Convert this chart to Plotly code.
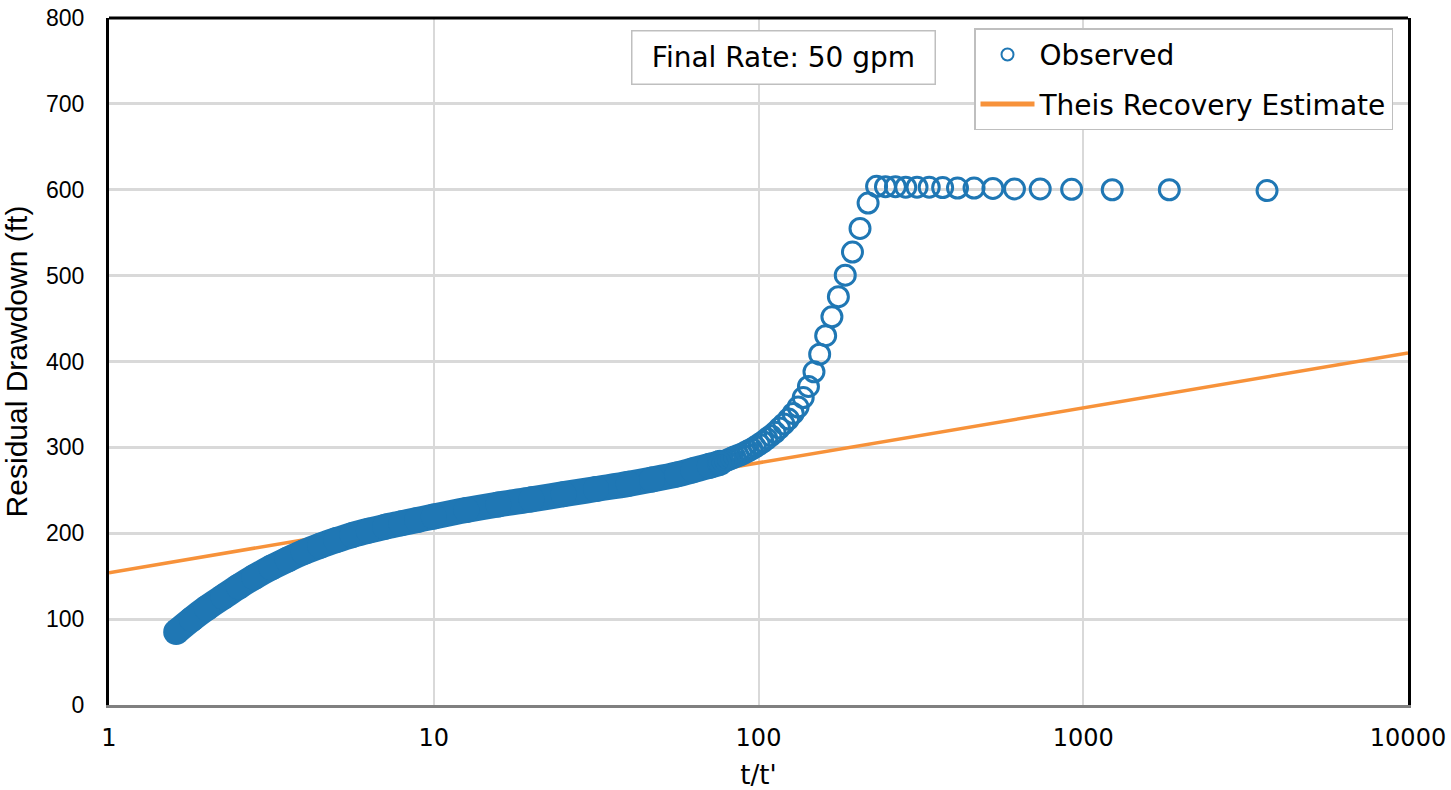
import plotly.graph_objects as go

# ---------------- data ----------------
# individually visible observed points (early recovery, large t/t')
obs_x = [3681, 1841, 1228, 921, 737, 614, 527, 461, 410, 369, 335.5, 307.7,
         284, 264, 246, 231, 217.5, 205.4, 194.7, 185, 176.2, 168.3, 161,
         154.3, 148.2, 142.5, 137.3, 132.4, 127.9, 123.7, 119.7, 116, 112.5,
         109.2, 106.1, 103.2, 100.5, 97.8, 95.4, 93, 90.8, 88.6, 86.6, 84.6,
         82.8, 81, 79.3, 77.7, 76.1]
obs_y = [599, 600, 600, 600.5, 601, 601, 601.5, 602, 602, 602.5, 603, 603,
         603, 603.5, 603.5, 604, 584.5, 555, 527.5, 500.5, 475.5, 452, 430,
         408.5, 388, 371, 358, 347, 339.5, 333, 327.3, 322.5, 317.5,
         313.6, 310, 306.5, 303.6, 300.6, 298.2, 296, 294, 292, 290.5, 289,
         287.5, 286, 284.5, 283, 282]

# densely packed observed points (late recovery) - band centre readings
dense_x = [1.61, 1.8, 2.0, 2.25, 2.51, 2.8, 3.16, 3.55, 3.98, 4.47, 5.01,
           5.62, 6.31, 7.08, 7.94, 8.9, 10, 12.6, 15.8, 20, 25.1, 31.6, 39.8,
           47, 56.2, 63, 70.8, 76.1]
dense_y = [85, 100, 113, 126, 138, 149, 160, 169.5, 178, 185.5, 192,
           198, 203, 207.5, 211.5, 215.5, 219.5, 227, 233.5, 239.5, 245.5,
           251.5, 257.5, 262.5, 268.5, 273.5, 278.5, 282]

theis_x = [1, 10, 100, 1000, 10000]
theis_y = [154, 218, 282, 346, 410]

x_ticks = [1, 10, 100, 1000, 10000]
x_tick_labels = ["1", "10", "100", "1000", "10000"]
y_ticks = [0, 100, 200, 300, 400, 500, 600, 700, 800]

BLUE = "#1f77b4"
ORANGE = "#f7923a"

fig = go.Figure()

fig.add_trace(go.Scatter(
    x=theis_x, y=theis_y, mode="lines", name="Theis Recovery Estimate",
    line=dict(color=ORANGE, width=3.5), legendgroup="b", legendrank=2))

fig.add_trace(go.Scatter(
    x=dense_x, y=dense_y, mode="lines+markers", showlegend=False,
    line=dict(color=BLUE, width=26, shape="spline", smoothing=1),
    marker=dict(symbol="circle", size=26, color=BLUE, line=dict(width=0)),
    hoverinfo="skip"))

fig.add_trace(go.Scatter(
    x=obs_x, y=obs_y, mode="markers", name="Observed",
    marker=dict(symbol="circle-open", size=20, color=BLUE,
                line=dict(width=3, color=BLUE)),
    legendgroup="a", legendrank=1))

fig.update_layout(
    width=1451, height=790,
    margin=dict(l=109, r=43, t=18, b=85, autoexpand=False),
    paper_bgcolor="white", plot_bgcolor="white",
    font=dict(family="DejaVu Sans", color="black"),
    legend=dict(
        x=0.6659, y=0.985, xanchor="left", yanchor="top",
        bgcolor="white", bordercolor="#bfbfbf", borderwidth=1.5,
        font=dict(family="DejaVu Sans", size=28, color="black"),
        itemsizing="constant", itemwidth=54,
        traceorder="grouped", tracegroupgap=10),
    xaxis=dict(
        type="log", range=[0, 4], tickvals=x_ticks, ticktext=x_tick_labels,
        showgrid=True, gridcolor="#d9d9d9", gridwidth=1.5,
        showline=True, linecolor="#808080", linewidth=3, mirror=False,
        zeroline=False, ticks="", ticklabelstandoff=9,
        tickfont=dict(family="DejaVu Sans", size=24, color="black"),
        title=dict(text="t/t'", standoff=27,
                   font=dict(family="DejaVu Sans", size=26, color="black"))),
    yaxis=dict(
        range=[0, 800], tickvals=y_ticks,
        showgrid=True, gridcolor="#d9d9d9", gridwidth=3,
        showline=True, linecolor="black", linewidth=3, mirror=True,
        zeroline=False, ticks="", ticklabelstandoff=17,
        tickfont=dict(family="Liberation Sans", size=23, color="black"),
        title=dict(text="Residual Drawdown (ft)", standoff=10,
                   font=dict(family="Liberation Sans", size=30, color="black"))),
    shapes=[dict(type="line", xref="paper", yref="paper", x0=0, x1=1,
                 y0=1, y1=1, line=dict(color="black", width=3))],
    annotations=[dict(
        text="Final Rate: 50 gpm", xref="paper", yref="paper",
        x=0.5189, y=0.9432, xanchor="center", yanchor="middle",
        showarrow=False, width=300, height=50, align="center",
        bordercolor="#bfbfbf", borderwidth=1.5, borderpad=1, bgcolor="white",
        font=dict(family="DejaVu Sans", size=28, color="black"))],
)

fig.write_html("out.html")
